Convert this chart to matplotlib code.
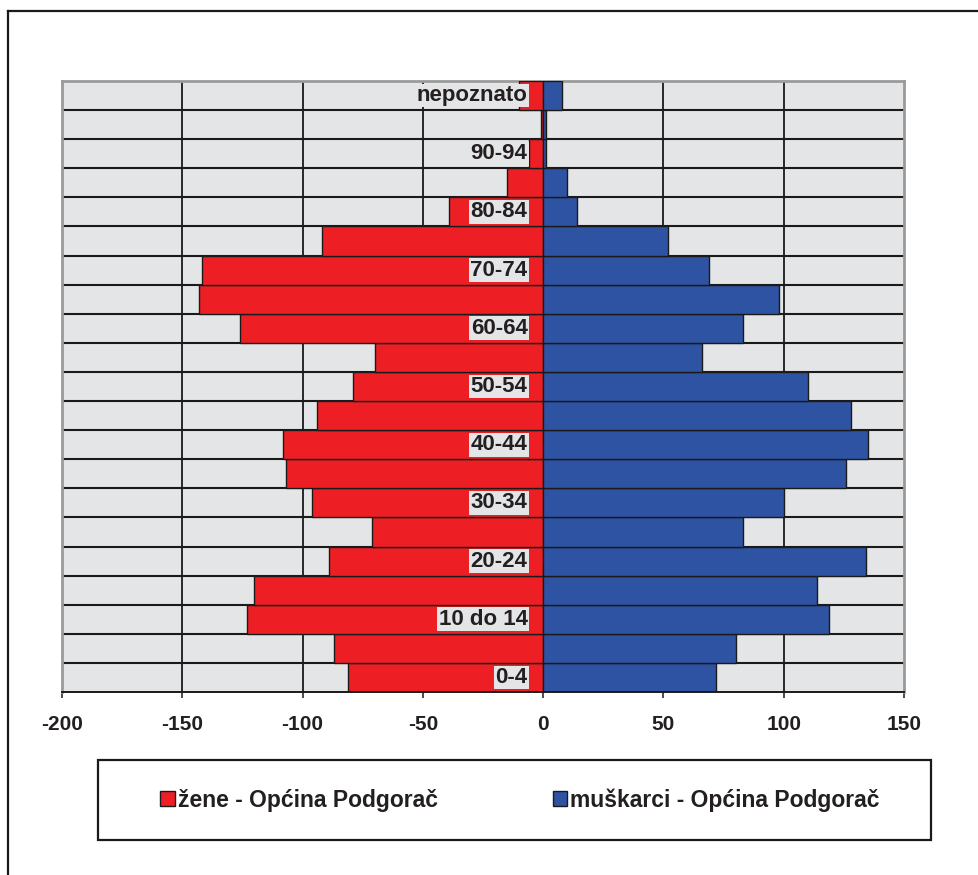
import numpy as np
import matplotlib
matplotlib.use('Agg')
import matplotlib.pyplot as plt
from matplotlib.patches import Rectangle, Patch
from matplotlib.lines import Line2D

plt.rcParams['font.family'] = ['Liberation Sans', 'DejaVu Sans']
plt.rcParams['font.weight'] = 'bold'

# dobne skupine, od najmlađe prema gore
age_groups = ['0-4', '5-9', '10 do 14', '15-19', '20-24', '25-29', '30-34',
              '35-39', '40-44', '45-49', '50-54', '55-59', '60-64', '65-69',
              '70-74', '75-79', '80-84', '85-89', '90-94', '95+', 'nepoznato']
zene = [81, 87, 123, 120, 89, 71, 96, 107, 108, 94, 79, 70, 126, 143,
        142, 92, 39, 15, 6, 1, 10]
muskarci = [72, 80, 119, 114, 134, 83, 100, 126, 135, 128, 110, 66, 83, 98,
            69, 52, 14, 10, 1, 1, 8]
x_ticks = [-200, -150, -100, -50, 0, 50, 100, 150]

label_zene = 'žene - Općina Podgorač'
label_muskarci = 'muškarci - Općina Podgorač'

red = '#ed1f24'
blue = '#2f53a3'
bg = '#e4e5e7'
txt = '#231f20'

W, H = 979, 875
fig = plt.figure(figsize=(W / 100, H / 100), dpi=100)
ax = fig.add_axes([62 / W, 1 - 692 / H, (904 - 62) / W, (692 - 81) / H])
ax.set_facecolor(bg)

y = np.arange(len(age_groups))
ax.barh(y, -np.array(zene), height=1.0, color=red, edgecolor='#1a1a1a',
        linewidth=1.0, zorder=3)
ax.barh(y, muskarci, height=1.0, color=blue, edgecolor='#1a1a1a',
        linewidth=1.0, zorder=3)

ax.set_xlim(-200, 150)
ax.set_ylim(-0.5, len(age_groups) - 0.5)

# mreža: okomite na -150..100, vodoravne između redova
for xv in x_ticks[1:-1]:
    if xv != 0:
        ax.axvline(xv, color='#1a1a1a', lw=1.3, zorder=1)
for k in range(len(age_groups) - 1):
    ax.axhline(k + 0.5, color='#1a1a1a', lw=1.5, zorder=2)

# oznake dobnih skupina (svaka druga)
for i, name in enumerate(age_groups):
    if i % 2 == 0:
        ax.text(-6.5, y[i], name, ha='right', va='center', fontsize=16,
                fontweight='bold', color=txt, zorder=5,
                bbox=dict(boxstyle='square,pad=0.06', fc=bg, ec='none'))

ax.set_yticks([])
ax.set_xticks(x_ticks)
ax.set_xticklabels([str(v) for v in x_ticks], fontsize=15, fontweight='bold',
                   color=txt)
ax.tick_params(axis='x', direction='out', length=4.5, width=1.1,
               color='#1a1a1a', pad=12)

for s in ['left', 'top', 'right']:
    ax.spines[s].set_color('#9a9a9a')
    ax.spines[s].set_linewidth(2)
ax.spines['bottom'].set_color('#1a1a1a')
ax.spines['bottom'].set_linewidth(1.4)
ax.spines['bottom'].set_zorder(6)

# okvir legende
fig.add_artist(Rectangle((98.5 / W, 1 - 840 / H), (931 - 98.5) / W, 80 / H,
                         transform=fig.transFigure, fill=False,
                         ec='#1a1a1a', lw=1.6))
handles = [Patch(fc=red, ec='#1a1a1a', lw=1.0),
           Patch(fc=blue, ec='#1a1a1a', lw=1.0)]
fig.legend(handles, [label_zene, label_muskarci], loc='center',
           bbox_to_anchor=(520 / W, 1 - 800 / H), ncol=2, frameon=False,
           prop=dict(family='Liberation Sans', weight='bold', size=16.5),
           handlelength=0.65, handleheight=0.65, handletextpad=0.13,
           columnspacing=5.0, labelcolor=txt)

# vanjski okvir (lijevo i gore)
fig.add_artist(Line2D([8 / W, 8 / W], [0, 1 - 11 / H],
                      transform=fig.transFigure, color='#1a1a1a', lw=1.6))
fig.add_artist(Line2D([8 / W, 1], [1 - 11 / H, 1 - 11 / H],
                      transform=fig.transFigure, color='#1a1a1a', lw=1.6))

fig.savefig('out.png', dpi=100, facecolor='white')
